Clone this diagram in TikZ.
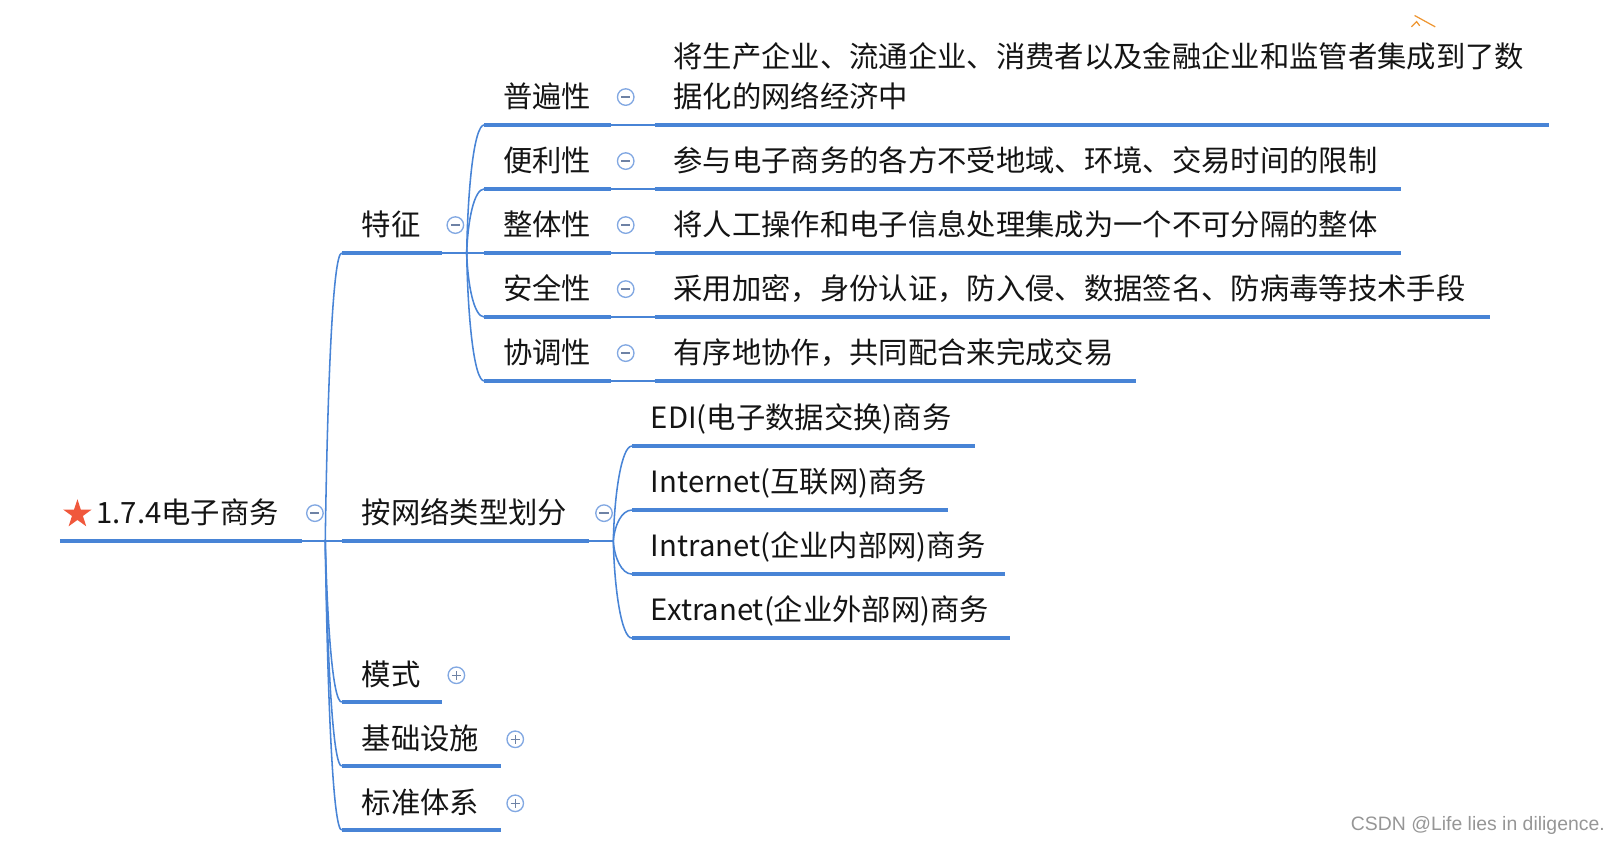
\documentclass[tikz,border=0pt]{standalone}
\usepackage{fontspec}
\setmainfont{Noto Sans CJK SC}
\newfontfamily\wmfont{Liberation Sans}
\usetikzlibrary{shapes.geometric}
\definecolor{lineblue}{RGB}{72,132,214}
\definecolor{iconblue}{RGB}{130,168,226}
\definecolor{iconmark}{RGB}{110,130,165}
\definecolor{txt}{RGB}{20,20,20}
\definecolor{starred}{RGB}{240,88,60}
\definecolor{wmgray}{RGB}{150,150,150}
\definecolor{markorange}{RGB}{238,150,50}
\begin{document}
\begin{tikzpicture}[x=0.5pt,y=-0.5pt,
 topic/.style={anchor=base west, inner sep=0, text=txt, font=\fontsize{14.2pt}{19.5pt}\selectfont},
 ul/.style={draw=lineblue, line width=2pt},
 conn/.style={draw=lineblue, line width=0.75pt},
 fold/.style={circle, draw=iconblue, line width=0.65pt, minimum size=8pt, inner sep=0, fill=white},
 foldminus/.style={fold, path picture={\draw[iconmark, line width=0.65pt] ([xshift=-2.2pt]path picture bounding box.center) -- ([xshift=2.2pt]path picture bounding box.center);}},
 foldplus/.style={fold, path picture={\draw[iconmark, line width=0.65pt] ([xshift=-2.2pt]path picture bounding box.center) -- ([xshift=2.2pt]path picture bounding box.center) ([yshift=-2.2pt]path picture bounding box.center) -- ([yshift=2.2pt]path picture bounding box.center);}}
]
\useasboundingbox (0,0) rectangle (1568,817.4);

% ---------- coordinates ----------
\coordinate (root-s) at (58,524);   \coordinate (root-e) at (292,524);  \coordinate (root-b) at (315,524);
\coordinate (tz-s) at (331,245);    \coordinate (tz-e) at (428,245);    \coordinate (tz-b) at (452,245);
\coordinate (wl-s) at (331,524);    \coordinate (wl-e) at (570,524);    \coordinate (wl-b) at (594,524);
\coordinate (ms-s) at (331,680);    \coordinate (ms-e) at (428,680);
\coordinate (jc-s) at (331,742);    \coordinate (jc-e) at (485,742);
\coordinate (bz-s) at (331,804);    \coordinate (bz-e) at (485,804);

\coordinate (pb-s) at (469,121); \coordinate (pb-e) at (592,121); \coordinate (pbd-s) at (634,121); \coordinate (pbd-e) at (1500,121);
\coordinate (bl-s) at (469,183); \coordinate (bl-e) at (592,183); \coordinate (bld-s) at (634,183); \coordinate (bld-e) at (1357,183);
\coordinate (zt-s) at (469,245); \coordinate (zt-e) at (592,245); \coordinate (ztd-s) at (634,245); \coordinate (ztd-e) at (1357,245);
\coordinate (aq-s) at (469,307); \coordinate (aq-e) at (592,307); \coordinate (aqd-s) at (634,307); \coordinate (aqd-e) at (1443,307);
\coordinate (xt-s) at (469,369); \coordinate (xt-e) at (592,369); \coordinate (xtd-s) at (634,369); \coordinate (xtd-e) at (1100,369);

\coordinate (edi-s) at (612,432); \coordinate (edi-e) at (944,432);
\coordinate (int-s) at (612,494); \coordinate (int-e) at (918,494);
\coordinate (itr-s) at (612,556); \coordinate (itr-e) at (973,556);
\coordinate (ext-s) at (612,618); \coordinate (ext-e) at (978,618);

% ---------- connectors ----------
\draw[conn] (root-e) -- (root-b);
\draw[conn] (root-b) .. controls +(2,-140) and +(-9,0) .. (tz-s);
\draw[conn] (root-b) -- (wl-s);
\draw[conn] (root-b) .. controls +(2,78) and +(-9,0) .. (ms-s);
\draw[conn] (root-b) .. controls +(2,109) and +(-9,0) .. (jc-s);
\draw[conn] (root-b) .. controls +(2,140) and +(-9,0) .. (bz-s);

\draw[conn] (tz-e) -- (tz-b);
\draw[conn] (tz-b) .. controls +(1,-62) and +(-10,0) .. (pb-s);
\draw[conn] (tz-b) .. controls +(1,-31) and +(-10,0) .. (bl-s);
\draw[conn] (tz-b) -- (zt-s);
\draw[conn] (tz-b) .. controls +(1,31) and +(-10,0) .. (aq-s);
\draw[conn] (tz-b) .. controls +(1,62) and +(-10,0) .. (xt-s);

\draw[conn] (pb-e) -- (pbd-s);
\draw[conn] (bl-e) -- (bld-s);
\draw[conn] (zt-e) -- (ztd-s);
\draw[conn] (aq-e) -- (aqd-s);
\draw[conn] (xt-e) -- (xtd-s);

\draw[conn] (wl-e) -- (wl-b);
\draw[conn] (wl-b) .. controls +(1,-46) and +(-10,0) .. (edi-s);
\draw[conn] (wl-b) .. controls +(1,-15) and +(-10,0) .. (int-s);
\draw[conn] (wl-b) .. controls +(1,16) and +(-10,0) .. (itr-s);
\draw[conn] (wl-b) .. controls +(1,47) and +(-10,0) .. (ext-s);

% ---------- underlines ----------
\foreach \n in {root,tz,wl,ms,jc,bz,pb,pbd,bl,bld,zt,ztd,aq,aqd,xt,xtd,edi,int,itr,ext}
  \draw[ul] (\n-s) -- (\n-e);

% ---------- root ----------
\node[star, star points=5, star point ratio=2.6, fill=starred, minimum size=14.5pt, inner sep=0] (star) at (75,498) {};
\node[topic] (root) at (93,507) {1.7.4电子商务};
\node[foldminus] (root-i) at (305,497) {};

% ---------- level 1 ----------
\node[topic] (tz) at (350,228) {特征};
\node[foldminus] (tz-i) at (441,218) {};
\node[topic] (wl) at (350,507) {按网络类型划分};
\node[foldminus] (wl-i) at (585,497) {};
\node[topic] (ms) at (350,664) {模式};
\node[foldplus] (ms-i) at (442,654) {};
\node[topic] (jc) at (350,726) {基础设施};
\node[foldplus] (jc-i) at (499,716) {};
\node[topic] (bz) at (350,788) {标准体系};
\node[foldplus] (bz-i) at (499,778) {};

% ---------- features ----------
\node[topic] (pb) at (487,104) {普遍性};
\node[foldminus] (pb-i) at (606,94) {};
\node[topic, align=left] (pbd) at (652,104) {将生产企业、流通企业、消费者以及金融企业和监管者集成到了数\\据化的网络经济中};

\node[topic] (bl) at (487,166) {便利性};
\node[foldminus] (bl-i) at (606,156) {};
\node[topic] (bld) at (652,166) {参与电子商务的各方不受地域、环境、交易时间的限制};

\node[topic] (zt) at (487,228) {整体性};
\node[foldminus] (zt-i) at (606,218) {};
\node[topic] (ztd) at (652,228) {将人工操作和电子信息处理集成为一个不可分隔的整体};

\node[topic] (aq) at (487,290) {安全性};
\node[foldminus] (aq-i) at (606,280) {};
\node[topic] (aqd) at (652,290) {采用加密，身份认证，防入侵、数据签名、防病毒等技术手段};

\node[topic] (xt) at (487,352) {协调性};
\node[foldminus] (xt-i) at (606,342) {};
\node[topic] (xtd) at (652,352) {有序地协作，共同配合来完成交易};

% ---------- network types ----------
\node[topic] (edi) at (630,415) {EDI(电子数据交换)商务};
\node[topic] (int) at (630,477) {Internet(互联网)商务};
\node[topic] (itr) at (630,539) {Intranet(企业内部网)商务};
\node[topic] (ext) at (630,601) {Extranet(企业外部网)商务};

% ---------- watermark & stray mark ----------
\node[anchor=base west, inner sep=0, text=wmgray, font=\wmfont\fontsize{9.4pt}{11pt}\selectfont] (wm) at (1308,804) {CSDN @Life lies in diligence.};
\draw[markorange, line width=0.6pt] (1370,15) -- (1390,26);
\draw[markorange, line width=0.6pt] (1367,26) -- (1372,21) -- (1375,25);
\end{tikzpicture}
\end{document}
